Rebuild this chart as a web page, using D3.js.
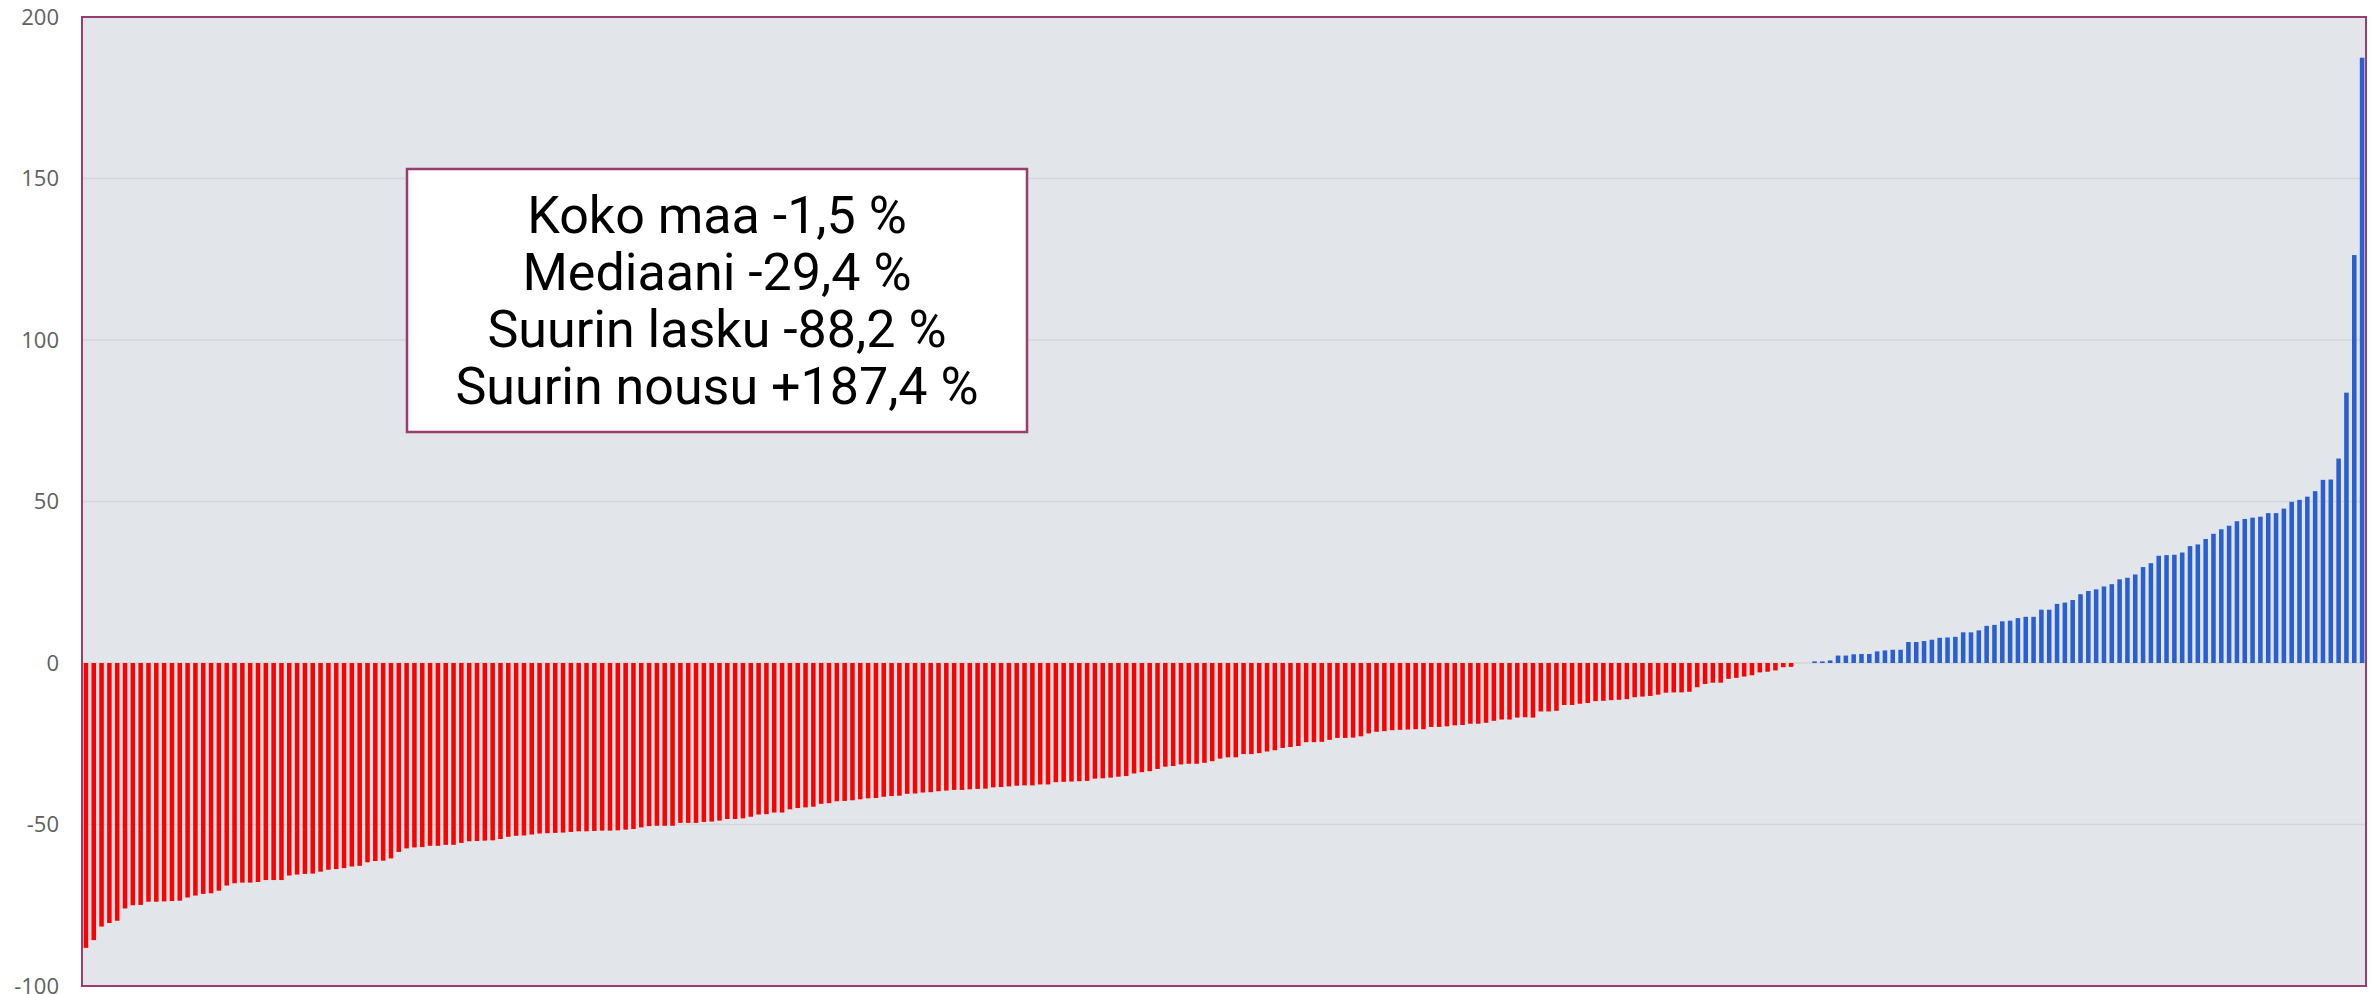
<!DOCTYPE html>
<html>
<head>
<meta charset="utf-8">
<script src="https://cdn.jsdelivr.net/npm/d3@7"></script>
<style>
  body { margin: 0; background: #fff; }
  .canvas svg { display: block; }
</style>
</head>
<body>
<div class="canvas"></div>
<script>
// municipal change, %, sorted ascending
const declines = [
  -88.2, -85.8, -81.6, -80.5, -79.8, -76.0, -75.0, -74.9, -73.9, -73.9,
  -73.8, -73.7, -73.6, -72.6, -72.0, -71.5, -71.3, -70.5, -68.9, -68.2,
  -68.0, -68.0, -67.8, -67.2, -67.2, -67.2, -65.8, -65.5, -65.3, -65.2,
  -64.6, -64.0, -63.8, -63.5, -63.0, -62.8, -61.7, -61.3, -61.2, -60.5,
  -58.5, -57.4, -57.1, -57.0, -56.6, -56.6, -56.3, -56.3, -55.7, -55.2,
  -55.1, -55.0, -54.9, -54.5, -53.8, -53.5, -53.4, -53.1, -52.8, -52.7,
  -52.6, -52.5, -52.3, -52.1, -52.1, -52.0, -51.9, -51.9, -51.8, -51.6,
  -51.4, -50.9, -50.5, -50.4, -50.4, -50.4, -49.5, -49.5, -49.5, -49.2,
  -49.1, -48.8, -48.3, -48.3, -48.1, -47.6, -46.9, -46.8, -46.3, -46.3,
  -45.3, -44.9, -44.7, -44.5, -43.6, -43.4, -42.8, -42.7, -42.5, -42.2,
  -41.9, -41.8, -41.4, -41.2, -41.1, -40.5, -40.4, -40.1, -40.0, -39.7,
  -39.5, -39.3, -39.3, -39.1, -39.0, -38.9, -38.5, -38.4, -38.2, -38.0,
  -37.9, -37.9, -37.6, -37.6, -36.9, -36.8, -36.7, -36.6, -36.5, -35.8,
  -35.7, -35.5, -35.2, -35.0, -34.2, -33.8, -33.5, -32.8, -32.1, -31.9,
  -31.4, -31.2, -31.2, -30.9, -30.4, -29.6, -29.2, -29.2, -28.2, -28.2,
  -27.9, -27.4, -27.0, -26.3, -26.0, -25.7, -24.5, -24.5, -24.4, -23.8,
  -23.2, -23.2, -23.1, -22.7, -21.8, -21.3, -21.1, -20.8, -20.7, -20.6,
  -20.5, -20.5, -19.8, -19.8, -19.6, -19.3, -19.2, -18.8, -18.8, -18.5,
  -17.9, -17.5, -17.5, -16.9, -16.8, -16.9, -15.0, -15.0, -14.8, -13.0,
  -13.0, -12.6, -12.4, -11.8, -11.7, -11.5, -11.4, -11.2, -10.6, -10.4,
  -10.2, -9.8, -9.2, -9.1, -9.1, -8.9, -7.5, -6.5, -6.1, -6.1,
  -4.9, -4.6, -4.2, -3.8, -2.9, -2.7, -2.3, -1.3, -1.2
];
const unchanged = [0, 0];
const increases = [
  0.5, 0.5, 0.8, 2.3, 2.3, 2.7, 2.8, 2.8, 3.6, 3.9,
  4.1, 4.1, 6.5, 6.5, 6.8, 7.2, 7.8, 7.9, 8.1, 9.5,
  9.5, 10.1, 11.5, 11.8, 12.9, 13.1, 13.9, 14.3, 14.3, 16.5,
  16.5, 18.3, 18.7, 19.5, 21.3, 22.3, 22.8, 23.7, 24.4, 25.9,
  26.4, 27.4, 29.7, 30.9, 33.2, 33.4, 33.5, 34.2, 36.2, 36.7,
  38.4, 40.0, 41.4, 42.5, 43.9, 44.6, 45.0, 45.3, 46.4, 46.4,
  47.8, 49.9, 50.5, 51.5, 53.2, 56.7, 56.8, 63.3, 83.7, 126.3,
  187.4
];
const yTicks = [-100, -50, 0, 50, 100, 150, 200];
const summaryLines = [
  "Koko maa -1,5 %",
  "Mediaani -29,4 %",
  "Suurin lasku -88,2 %",
  "Suurin nousu +187,4 %"
];

const values = declines.concat(unchanged, increases);
const data = values.map((v, i) => ({ id: i, value: v }));

const width = 2379;
const height = 994;
const margin = { top: 17, right: 13, bottom: 8, left: 82 };
const graphWidth = width - margin.left - margin.right;
const graphHeight = height - margin.top - margin.bottom;

const svg = d3
  .select(".canvas")
  .append("svg")
  .attr("width", width)
  .attr("height", height);

const graph = svg
  .append("g")
  .attr("transform", `translate(${margin.left}, ${margin.top})`);

// scales
const x = d3
  .scaleBand()
  .domain(data.map((d) => d.id))
  .range([0, graphWidth])
  .paddingInner(0.42)
  .paddingOuter(0.21);

const y = d3.scaleLinear().domain([-100, 200]).range([graphHeight, 0]);

// plot background
graph
  .append("rect")
  .attr("width", graphWidth)
  .attr("height", graphHeight)
  .attr("fill", "#e2e5ea");

// grid lines
graph
  .append("g")
  .attr("class", "grid")
  .selectAll("line")
  .data(yTicks.filter((t) => t > -100 && t < 200))
  .enter()
  .append("line")
  .attr("x1", 0)
  .attr("x2", graphWidth)
  .attr("y1", (d) => y(d))
  .attr("y2", (d) => y(d))
  .attr("stroke", "#d3d5d8")
  .attr("stroke-width", 1.5);

// bars
graph
  .append("g")
  .attr("class", "bars")
  .selectAll("rect")
  .data(data)
  .enter()
  .append("rect")
  .attr("x", (d) => x(d.id))
  .attr("width", x.bandwidth())
  .attr("y", (d) => y(Math.max(0, d.value)))
  .attr("height", (d) => Math.abs(y(d.value) - y(0)))
  .attr("fill", (d) => (d.value < 0 ? "#ff0000" : "#2a5fd2"));

// frame
graph
  .append("rect")
  .attr("width", graphWidth)
  .attr("height", graphHeight)
  .attr("fill", "none")
  .attr("stroke", "#993d6f")
  .attr("stroke-width", 2);

// y axis
const yAxis = d3
  .axisLeft(y)
  .tickValues(yTicks)
  .tickSize(0)
  .tickPadding(23)
  .tickFormat((d) => d);

const yAxisGroup = graph.append("g").attr("class", "y-axis").call(yAxis);
yAxisGroup.select(".domain").remove();
yAxisGroup
  .selectAll("text")
  .attr("fill", "#5f5f5f")
  .style("font-family", "'Open Sans', sans-serif")
  .style("font-size", "22px");

// summary box
const box = svg.append("g").attr("class", "summary");
box
  .append("rect")
  .attr("x", 407)
  .attr("y", 169)
  .attr("width", 620)
  .attr("height", 263)
  .attr("fill", "#fff")
  .attr("stroke", "#993d6f")
  .attr("stroke-width", 2.5);

box
  .selectAll("text")
  .data(summaryLines)
  .enter()
  .append("text")
  .attr("x", 717)
  .attr("y", (d, i) => 233 + i * 57)
  .attr("text-anchor", "middle")
  .attr("fill", "#000")
  .style("font-family", "Roboto, sans-serif")
  .style("font-size", "52px")
  .text((d) => d);
</script>
</body>
</html>
